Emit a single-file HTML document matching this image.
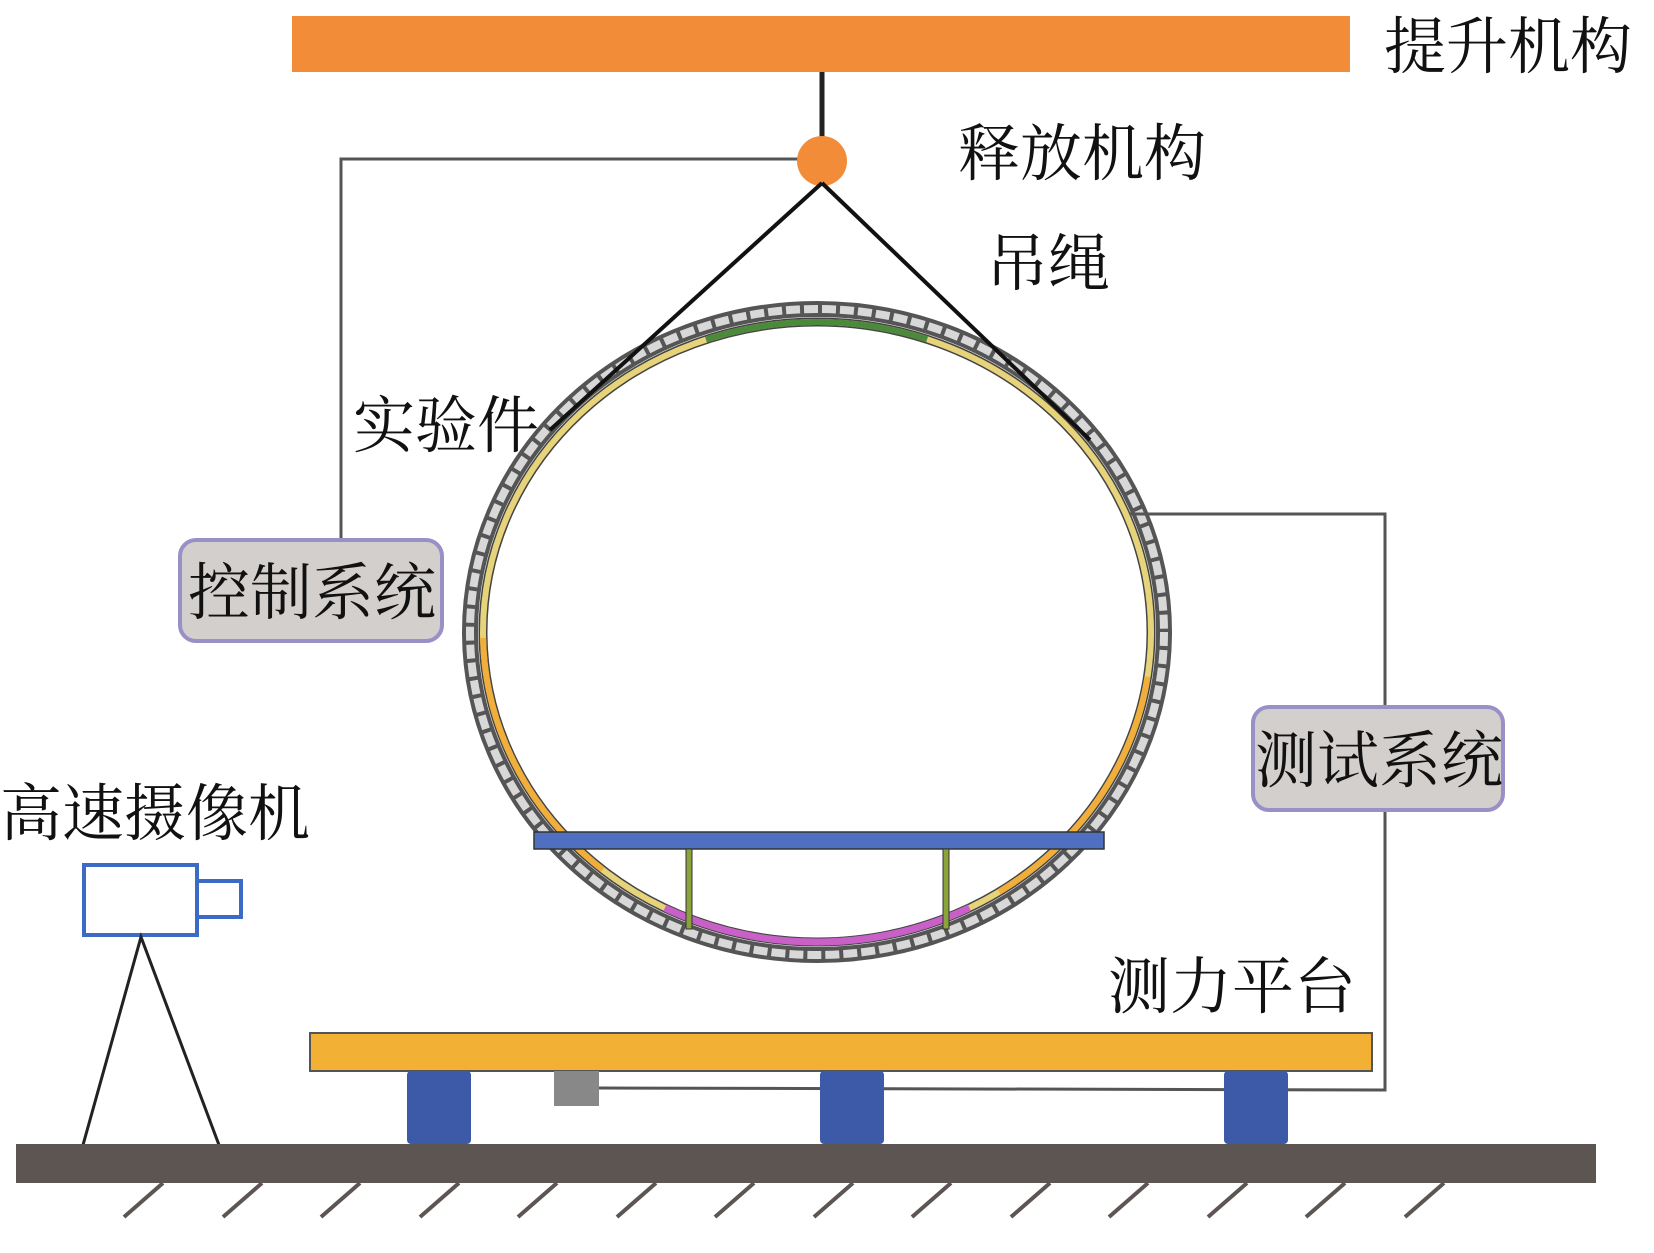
<!DOCTYPE html>
<html><head><meta charset="utf-8"><style>
html,body{margin:0;padding:0;background:#fff;}
svg{display:block;}
text{font-family:"Liberation Serif","Noto Serif CJK SC",serif;fill:#111;}
</style></head><body>
<svg width="1654" height="1253" viewBox="0 0 1654 1253" xmlns="http://www.w3.org/2000/svg">
<rect x="292" y="16" width="1058" height="56" fill="#f28c38"/>
<text x="1384" y="68" font-size="62">提升机构</text>
<line x1="822" y1="72" x2="822" y2="148" stroke="#222" stroke-width="5"/>
<polyline points="800,159 341,159 341,541" fill="none" stroke="#555" stroke-width="3"/>
<circle cx="822" cy="161" r="25" fill="#f28c38"/>
<text x="958" y="175" font-size="62">释放机构</text>
<text x="986" y="285" font-size="62">吊绳</text>
<text x="353" y="447" font-size="62">实验件</text>
<!-- ring -->
<ellipse cx="817" cy="632" rx="347" ry="323" fill="none" stroke="#555" stroke-width="16"/>
<ellipse cx="817" cy="632" rx="347" ry="323" fill="none" stroke="#d8d8d8" stroke-width="8" stroke-dasharray="14 4"/>
<ellipse cx="817" cy="632" rx="334" ry="310" fill="none" stroke="#444" stroke-width="9"/>
<ellipse cx="817" cy="632" rx="334" ry="310" fill="none" stroke="#e6d37a" stroke-width="6"/>
<ellipse cx="817" cy="632" rx="334" ry="310" fill="none" stroke="#4a8a3a" stroke-width="6" pathLength="360" stroke-dasharray="0 250 40 70"/>
<ellipse cx="817" cy="632" rx="334" ry="310" fill="none" stroke="#f2ae3a" stroke-width="6" pathLength="360" stroke-dasharray="0 8 48 75 48 181"/>
<ellipse cx="817" cy="632" rx="334" ry="310" fill="none" stroke="#c860c8" stroke-width="7" pathLength="360" stroke-dasharray="0 62 56 242"/>
<line x1="822" y1="183" x2="550" y2="430" stroke="#111" stroke-width="4"/>
<line x1="822" y1="183" x2="1090" y2="440" stroke="#111" stroke-width="4"/>
<rect x="534" y="832" width="570" height="17" fill="#4f6fc0" stroke="#333" stroke-width="1.5"/>
<rect x="686" y="849" width="6" height="80" fill="#8aa33a" stroke="#333" stroke-width="1"/>
<rect x="943" y="849" width="6" height="80" fill="#8aa33a" stroke="#333" stroke-width="1"/>
<!-- control box -->
<rect x="180" y="540" width="262" height="101" rx="16" fill="#d3cfcd" stroke="#9a90c8" stroke-width="4"/>
<text x="188" y="614" font-size="62">控制系统</text>
<!-- test system -->
<polyline points="1130,514 1385,514 1385,1090 599,1088" fill="none" stroke="#555" stroke-width="3"/>
<rect x="1253" y="707" width="250" height="103" rx="16" fill="#d3cfcd" stroke="#9a90c8" stroke-width="4"/>
<text x="1255" y="782" font-size="62">测试系统</text>
<!-- camera -->
<text x="0" y="835" font-size="62">高速摄像机</text>
<rect x="84" y="865" width="113" height="70" fill="#fff" stroke="#3b6bc4" stroke-width="4"/>
<rect x="197" y="881" width="44" height="36" fill="#fff" stroke="#3b6bc4" stroke-width="4"/>
<polyline points="83,1145 141,937 219,1145" fill="none" stroke="#222" stroke-width="3"/>
<!-- platform -->
<text x="1108" y="1008" font-size="62">测力平台</text>
<rect x="310" y="1033" width="1062" height="38" fill="#f2b035" stroke="#555" stroke-width="2"/>
<rect x="407" y="1071" width="64" height="73" rx="4" fill="#3c5aa8"/>
<rect x="820" y="1071" width="64" height="73" rx="4" fill="#3c5aa8"/>
<rect x="1224" y="1071" width="64" height="73" rx="4" fill="#3c5aa8"/>
<rect x="554" y="1071" width="45" height="35" fill="#888"/>
<rect x="16" y="1144" width="1580" height="39" fill="#5d5552"/>
<g stroke="#5d5552" stroke-width="4">
<line x1="163" y1="1183" x2="124" y2="1217"/><line x1="262" y1="1183" x2="223" y2="1217"/>
<line x1="360" y1="1183" x2="321" y2="1217"/><line x1="459" y1="1183" x2="420" y2="1217"/>
<line x1="557" y1="1183" x2="518" y2="1217"/><line x1="656" y1="1183" x2="617" y2="1217"/>
<line x1="754" y1="1183" x2="715" y2="1217"/><line x1="853" y1="1183" x2="814" y2="1217"/>
<line x1="951" y1="1183" x2="912" y2="1217"/><line x1="1050" y1="1183" x2="1011" y2="1217"/>
<line x1="1148" y1="1183" x2="1109" y2="1217"/><line x1="1247" y1="1183" x2="1208" y2="1217"/>
<line x1="1345" y1="1183" x2="1306" y2="1217"/><line x1="1444" y1="1183" x2="1405" y2="1217"/>
</g>
</svg>
</body></html>
